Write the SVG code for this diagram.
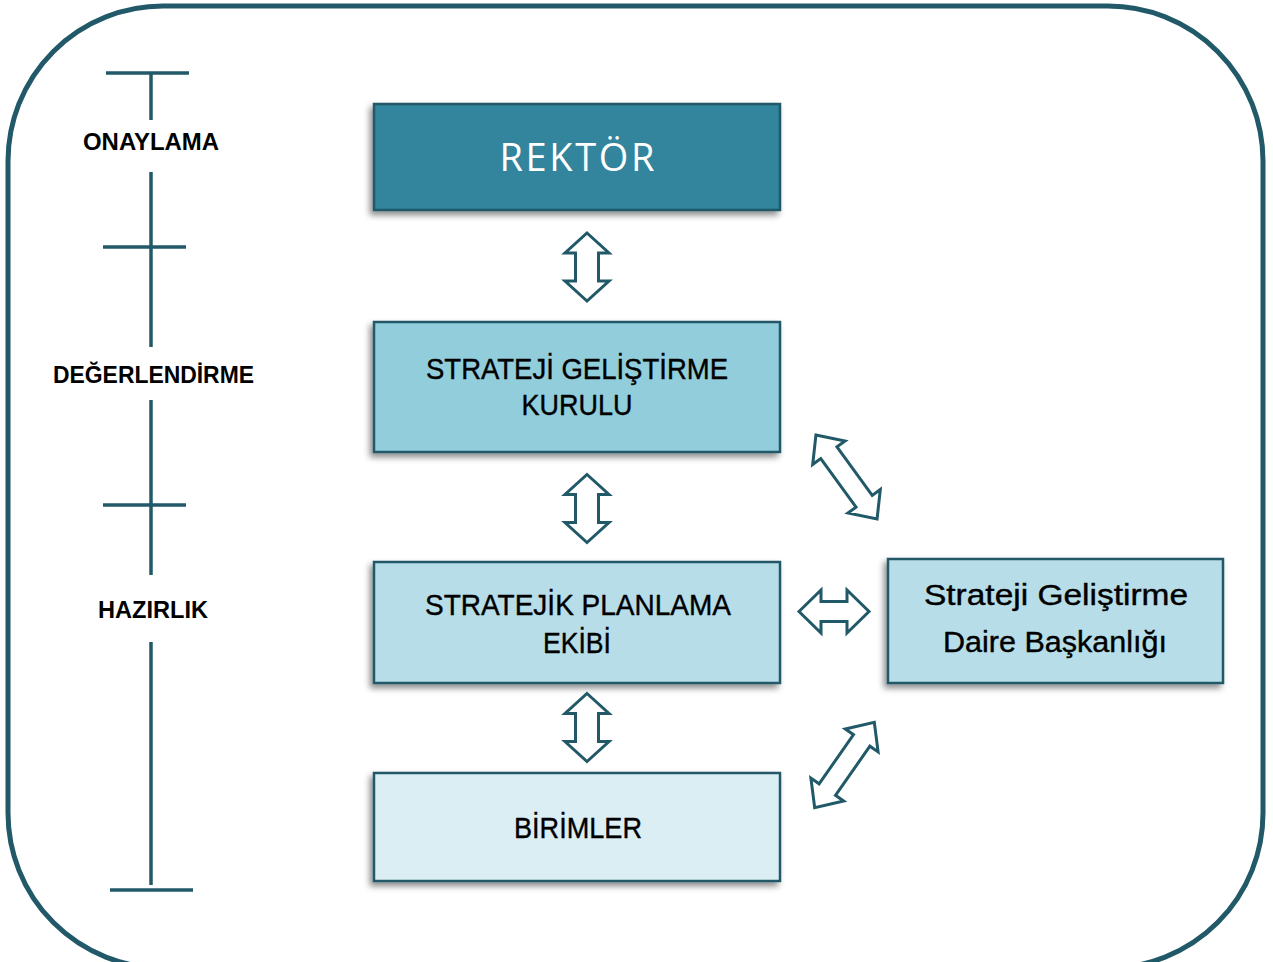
<svg xmlns="http://www.w3.org/2000/svg" width="1273" height="962" viewBox="0 0 1273 962">
  <defs>
    <filter id="sh" x="-10%" y="-20%" width="120%" height="150%">
      <feDropShadow dx="-3" dy="4" stdDeviation="3" flood-color="#000" flood-opacity="0.45"/>
    </filter>
    <path id="varrow" d="M0,-34 L22,-14 L11.5,-14 L11.5,14 L22,14 L0,34 L-22,14 L-11.5,14 L-11.5,-14 L-22,-14 Z"/>
  </defs>
  <style>
    .box { stroke: #215968; stroke-width: 2.5; filter: url(#sh); }
    .lbl { font-family: "Liberation Sans", Arial, sans-serif; font-size: 30px; fill: #000; text-anchor: middle; stroke: #000; stroke-width: 0.4px; }
    .tl { stroke: #215968; stroke-width: 3.5; fill: none; }
    .tlab { font-family: "Liberation Sans", Arial, sans-serif; font-weight: bold; font-size: 24px; fill: #000; text-anchor: middle; }
    .arr { fill: #fff; stroke: #215968; stroke-width: 3; stroke-linejoin: miter; }
  </style>
  <rect width="1273" height="962" fill="#fff"/>
  <rect x="8" y="6" width="1255" height="962" rx="155" ry="155" fill="none" stroke="#215968" stroke-width="5"/>

  <g id="timeline">
    <line class="tl" x1="106" y1="73" x2="189" y2="73"/>
    <line class="tl" x1="151" y1="73" x2="151" y2="120"/>
    <line class="tl" x1="151" y1="172" x2="151" y2="347"/>
    <line class="tl" x1="103" y1="247" x2="186" y2="247"/>
    <line class="tl" x1="151" y1="400" x2="151" y2="575"/>
    <line class="tl" x1="103" y1="505" x2="186" y2="505"/>
    <line class="tl" x1="151" y1="642" x2="151" y2="885"/>
    <line class="tl" x1="110" y1="890" x2="193" y2="890"/>
    <text class="tlab" x="151" y="150" textLength="136" lengthAdjust="spacingAndGlyphs">ONAYLAMA</text>
    <text class="tlab" x="153.5" y="383" textLength="201" lengthAdjust="spacingAndGlyphs">DEĞERLENDİRME</text>
    <text class="tlab" x="153" y="618" textLength="110" lengthAdjust="spacingAndGlyphs">HAZIRLIK</text>
  </g>

  <g id="rektor">
    <rect class="box" x="374" y="104" width="406" height="106" fill="#31859C"/>
    <text x="577" y="171" font-family="'Open Sans', 'Noto Sans', sans-serif" font-size="38" fill="#fff" text-anchor="middle" textLength="155" lengthAdjust="spacing">REKTÖR</text>
  </g>

  <g id="kurul">
    <rect class="box" x="374" y="322" width="406" height="130" fill="#92CDDC"/>
    <text class="lbl" x="577" y="379" textLength="302" lengthAdjust="spacingAndGlyphs">STRATEJİ GELİŞTİRME</text>
    <text class="lbl" x="577" y="415" textLength="111" lengthAdjust="spacingAndGlyphs">KURULU</text>
  </g>

  <g id="ekip">
    <rect class="box" x="374" y="562" width="406" height="121" fill="#B7DEE8"/>
    <text class="lbl" x="578" y="615" textLength="306" lengthAdjust="spacingAndGlyphs">STRATEJİK PLANLAMA</text>
    <text class="lbl" x="577" y="653" textLength="68" lengthAdjust="spacingAndGlyphs">EKİBİ</text>
  </g>

  <g id="birimler">
    <rect class="box" x="374" y="773" width="406" height="108" fill="#DBEEF4"/>
    <text class="lbl" x="578" y="838" textLength="128" lengthAdjust="spacingAndGlyphs">BİRİMLER</text>
  </g>

  <g id="daire">
    <rect class="box" x="888" y="559" width="335" height="124" fill="#B7DEE8"/>
    <text class="lbl" x="1056" y="605" font-size="31" textLength="264" lengthAdjust="spacingAndGlyphs">Strateji Geliştirme</text>
    <text class="lbl" x="1055" y="652" font-size="31" textLength="224" lengthAdjust="spacingAndGlyphs">Daire Başkanlığı</text>
  </g>

  <g id="connectors">
    <use href="#varrow" class="arr" transform="translate(587,267)"/>
    <use href="#varrow" class="arr" transform="translate(587,508.5)"/>
    <use href="#varrow" class="arr" transform="translate(587,727.5)"/>
    <path class="arr" transform="translate(834,611.5)" d="M-35,0 L-13,-21.5 L-13,-10 L13,-10 L13,-21.5 L35,0 L13,21.5 L13,10 L-13,10 L-13,21.5 Z"/>
    <path class="arr" transform="translate(846.5,477) rotate(54)" d="M-52,0 L-30,-20 L-30,-10 L30,-10 L30,-20 L52,0 L30,20 L30,10 L-30,10 L-30,20 Z"/>
    <path class="arr" transform="translate(844.5,765) rotate(-55)" d="M-52,0 L-30,-20 L-30,-10 L30,-10 L30,-20 L52,0 L30,20 L30,10 L-30,10 L-30,20 Z"/>
  </g>
</svg>
